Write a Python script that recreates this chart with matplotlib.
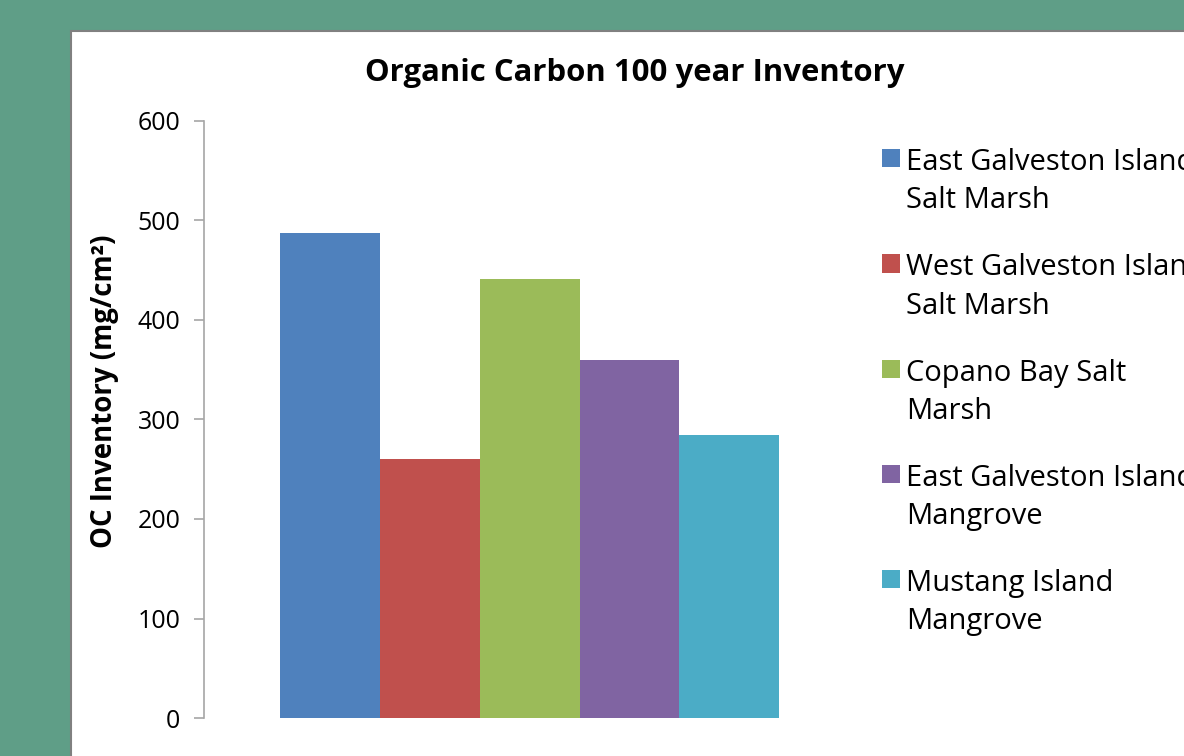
import matplotlib
matplotlib.use('Agg')
import matplotlib.pyplot as plt
from matplotlib.patches import Rectangle, Patch
from matplotlib.legend_handler import HandlerPatch

# Data
sites = ['East Galveston Island\nSalt Marsh',
         'West Galveston Island\nSalt Marsh',
         'Copano Bay Salt\nMarsh',
         'East Galveston Island\nMangrove',
         'Mustang Island\nMangrove']
oc_inventory = [487, 260, 441, 360, 284]
colors = ['#4F81BD', '#C0504D', '#9BBB59', '#8064A2', '#4BACC6']
y_ticks = [0, 100, 200, 300, 400, 500, 600]

plt.rcParams['font.family'] = ['Open Sans', 'DejaVu Sans']

W, H = 1184, 756
fig = plt.figure(figsize=(W / 100, H / 100), dpi=100, facecolor='#5F9E87')

# white slide panel behind the chart
panel = Rectangle((71 / W, -0.05), 1.2, (H - 31) / H + 0.05, transform=fig.transFigure,
                  facecolor='white', edgecolor='#808080', linewidth=1.5, zorder=-10)
fig.patches.append(panel)

ax = fig.add_axes([204 / W, (H - 718) / H, (855 - 204) / W, (718 - 121) / H])
ax.set_facecolor('none')

x = range(len(sites))
ax.bar(x, oc_inventory, width=1.0, color=colors, edgecolor='none')
ax.set_xlim(-1.262, 5.26)
ax.set_ylim(0, 600)
ax.set_yticks(y_ticks)
ax.set_xticks([])

for s in ['top', 'right', 'bottom']:
    ax.spines[s].set_visible(False)
ax.spines['left'].set_color('#A6A6A6')
ax.spines['left'].set_linewidth(1.2)
ax.tick_params(axis='y', colors='#A6A6A6', labelcolor='black', length=7, width=1.2,
               labelsize=18, pad=10)

ax.set_ylabel('OC Inventory (mg/cm²)', fontsize=19.9, fontweight='bold')
ax.yaxis.set_label_coords(-0.131, 0.548)
fig.text(635 / W, 1 - 73 / H, 'Organic Carbon 100 year Inventory', ha='center', va='center',
         fontsize=22.4, fontweight='bold')


# legend square sits beside the first line of a two-line label
def top_square(legend, orig_handle, xdescent, ydescent, width, height, fontsize):
    sq = width
    return Rectangle((-xdescent, -ydescent + height - sq + 0.30 * fontsize), sq, sq)


handles = [Patch(facecolor=c, edgecolor='none') for c in colors]
leg = fig.legend(handles, sites, loc='upper left', bbox_to_anchor=(856 / W, 1 - 122 / H),
                 frameon=False, fontsize=21, handlelength=0.62, handleheight=2.35,
                 handletextpad=0.2, labelspacing=1.3,
                 handler_map={Patch: HandlerPatch(patch_func=top_square)})
for t in leg.get_texts():
    t.set_linespacing(1.42)

fig.savefig('out.png', dpi=100, facecolor=fig.get_facecolor())
